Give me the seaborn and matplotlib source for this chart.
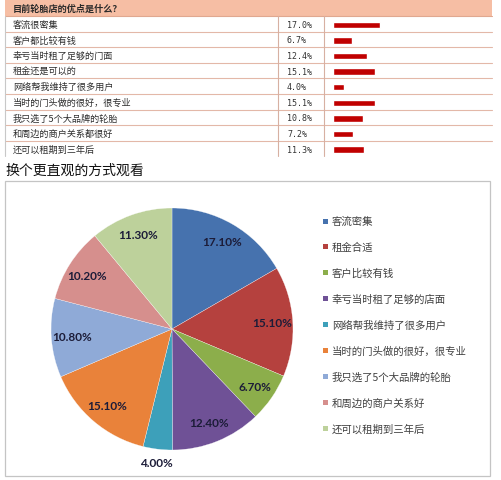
import numpy as np
import pandas as pd
import matplotlib
matplotlib.use("Agg")
import matplotlib.pyplot as plt
from matplotlib.patches import Rectangle
import seaborn as sns

# ---------------- data ----------------
table_title = "目前轮胎店的优点是什么？"
table_labels = ["客流很密集", "客户都比较有钱", "幸亏当时租了足够的门面", "租金还是可以的",
                "网络帮我维持了很多用户", "当时的门头做的很好，很专业", "我只选了5个大品牌的轮胎",
                "和周边的商户关系都很好", "还可以租期到三年后"]
table_values = [17.0, 6.7, 12.4, 15.1, 4.0, 15.1, 10.8, 7.2, 11.3]

subtitle = "换个更直观的方式观看"
pie_labels = ["客流密集", "租金合适", "客户比较有钱", "幸亏当时租了足够的店面",
              "网络帮我维持了很多用户", "当时的门头做的很好，很专业", "我只选了5个大品牌的轮胎",
              "和周边的商户关系好", "还可以租期到三年后"]
pie_values = [17.10, 15.10, 6.70, 12.40, 4.00, 15.10, 10.80, 10.20, 11.30]
pie_colors = ["#4672AE", "#B5413E", "#8CAE4B", "#6F5196", "#3DA0BA",
              "#E9823A", "#8FAAD7", "#D68F8D", "#BDD19B"]

# ---------------- setup ----------------
sns.set_theme(style="white")
plt.rcParams['font.family'] = ['Noto Sans CJK SC', 'DejaVu Sans']

W, H = 502, 481
fig = plt.figure(figsize=(W / 100, H / 100), dpi=100)
fig.patch.set_facecolor("white")


def px_axes(x, y, w, h):
    return fig.add_axes([x / W, 1 - (y + h) / H, w / W, h / H])


bg = fig.add_axes([0, 0, 1, 1])
bg.set_xlim(0, W)
bg.set_ylim(H, 0)
bg.axis("off")

# ---------------- table ----------------
tx0, tx1 = 5, 492
hy0, hy1 = 1, 17
row_h = 15.6
n = len(table_labels)
ty_end = hy1 + row_h * n

bg.add_patch(Rectangle((tx0, hy0), tx1 - tx0, hy1 - hy0, facecolor="#F6BEA4",
                       edgecolor="none"))
bg.text(13, (hy0 + hy1) / 2 + 0.5, table_title, fontsize=6.6, color="#2a2a2a",
        va="center", ha="left", fontweight="bold")
line_col = "#E3B8A8"
for k in range(1, n):
    y = hy1 + row_h * k
    bg.plot([tx0, tx1], [y, y], color=line_col, lw=0.8)
bg.plot([tx0, tx1], [hy1, hy1], color="#E0A890", lw=0.8)
bg.plot([tx0, tx0], [hy1, ty_end], color="#C8C8C8", lw=0.8)
for xv in (278, 324):
    bg.plot([xv, xv], [hy1, ty_end], color="#D7B0A2", lw=0.8)
for i, (lab, v) in enumerate(zip(table_labels, table_values)):
    yc = hy1 + row_h * (i + 0.5) + 0.5
    bg.text(13, yc, lab, fontsize=6.6, color="#2e2e2e", va="center", ha="left")
    bg.text(287, yc, f"{v:.1f}%", fontsize=6.0, color="#333333", va="center",
            ha="left", family=["DejaVu Sans Mono"])

# bars through seaborn
bar_ax = px_axes(333, hy1 + 1, 159, row_h * n)
df_bar = pd.DataFrame({"label": table_labels, "value": table_values})
sns.barplot(data=df_bar, x="value", y="label", orient="h", color="#C00000",
            width=0.4, ax=bar_ax, saturation=1)
bar_ax.set_xlim(0, 159 / 2.78)
bar_ax.axis("off")

# ---------------- subtitle ----------------
bg.text(5, 171, subtitle, fontsize=10, color="#111111", va="center", ha="left")

# ---------------- chart box ----------------
bg.add_patch(Rectangle((5, 182), 485, 295, facecolor="none", edgecolor="#C4C4C4",
                       lw=0.9))

# ---------------- pie ----------------
cx, cy, R = 172, 330, 121
pie_ax = px_axes(cx - R, cy - R, 2 * R, 2 * R)
wedges, _ = pie_ax.pie(pie_values, colors=pie_colors, startangle=90,
                       counterclock=False, radius=1,
                       wedgeprops=dict(edgecolor="white", linewidth=0.2))
pie_ax.set_xlim(-1, 1)
pie_ax.set_ylim(-1, 1)
pie_ax.set_aspect("equal")
pie_ax.axis("off")
for w, v in zip(wedges, pie_values):
    ang = np.deg2rad((w.theta1 + w.theta2) / 2)
    r = 0.83 if v > 5 else 1.11
    pie_ax.text(r * np.cos(ang), r * np.sin(ang), f"{v:.2f}%", ha="center",
                va="center", fontsize=8.5, fontweight="bold", color="#1c1c38",
                family=["Lato", "DejaVu Sans"], clip_on=False)

# ---------------- legend ----------------
for i, (lab, c) in enumerate(zip(pie_labels, pie_colors)):
    y = 222 + 25.9 * i
    bg.add_patch(Rectangle((323, y - 2.5), 5, 5, facecolor=c, edgecolor="none"))
    bg.text(332, y, lab, fontsize=7.5, color="#404040", va="center", ha="left")

fig.savefig("out.png", dpi=100, facecolor="white")
